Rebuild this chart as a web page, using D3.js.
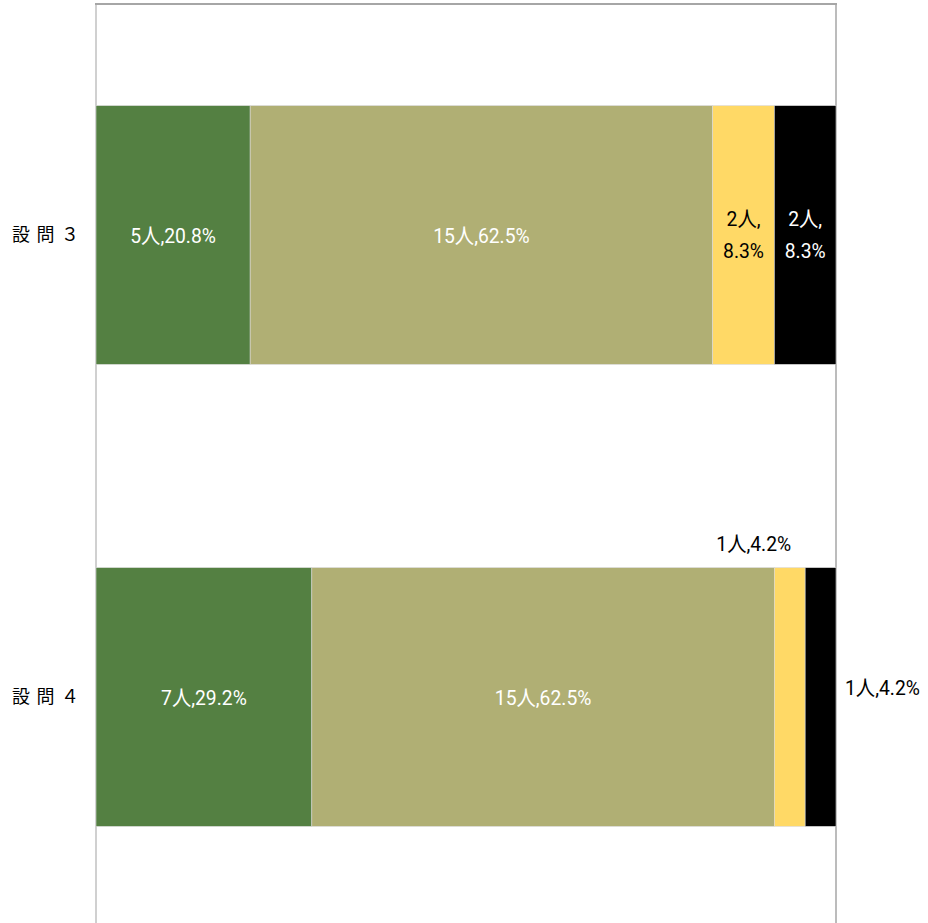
<!DOCTYPE html>
<html>
<head>
<meta charset="utf-8">
<script src="https://cdn.jsdelivr.net/npm/d3@7"></script>
<style>
  body { margin: 0; background: #fff; }
  svg { display: block; }
  text { font-family: "Roboto", "Noto Sans CJK JP", sans-serif; }
</style>
</head>
<body>
<svg id="chart" width="928" height="923"></svg>
<script>
const categories = ["設問３", "設問４"]
const counts = [
    [5, 15, 2, 2],
    [7, 15, 1, 1]
]
const percents = [
    ["20.8%", "62.5%", "8.3%", "8.3%"],
    ["29.2%", "62.5%", "4.2%", "4.2%"]
]
const colours = ["#548042", "#b0af74", "#ffd966", "#000000"]
const textColours = ["#fff", "#fff", "#000", "#fff"]

const svg = d3.select("#chart")
const margin = { top: 4, left: 96, right: 92, bottom: -5 }
const width = 928, height = 923
const x0 = margin.left, x1 = width - margin.right
const y0 = margin.top, y1 = height - margin.bottom
const squeeze = 0.92   // labels look slightly condensed

const x = d3.scaleLinear().domain([0, 1]).range([x0, x1])
const y = d3.scaleBand().domain(categories).range([y0, y1]).paddingInner(0.44).paddingOuter(0.22)

// stacked shares
const rows = categories.map((c, i) => {
    const total = d3.sum(counts[i])
    let acc = 0
    return counts[i].map((v, j) => {
        const d = { cat: c, row: i, j, v, start: acc / total, end: (acc + v) / total }
        acc += v
        return d
    })
})

// plot frame
svg.append("line").attr("x1", x0).attr("x2", x0).attr("y1", y0).attr("y2", height)
    .attr("stroke", "#d0d0d0").attr("stroke-width", 2)
svg.append("line").attr("x1", x1).attr("x2", x1).attr("y1", y0).attr("y2", height)
    .attr("stroke", "#a6a6a6").attr("stroke-width", 1.5)
svg.append("line").attr("x1", x0 - 1).attr("x2", x1 + 1).attr("y1", y0).attr("y2", y0)
    .attr("stroke", "#a6a6a6").attr("stroke-width", 2)

const g = svg.append("g")
g.selectAll("rect")
    .data(rows.flat())
    .join("rect")
    .attr("x", d => x(d.start))
    .attr("width", d => x(d.end) - x(d.start))
    .attr("y", d => y(d.cat))
    .attr("height", y.bandwidth())
    .attr("fill", d => colours[d.j])
    .attr("stroke", "#d9d9d9")
    .attr("stroke-width", 0.6)

// category labels
svg.append("g").selectAll("text")
    .data(categories)
    .join("text")
    .attr("x", 12)
    .attr("y", d => y(d) + y.bandwidth() / 2)
    .attr("dy", "0.36em")
    .attr("font-size", 18)
    .attr("letter-spacing", 6.5)
    .attr("font-family", "'Noto Sans CJK JP', sans-serif")
    .attr("fill", "#000")
    .text(d => d)

// data labels
const labels = svg.append("g").attr("font-size", 21)
function place(px, py, anchor, fill) {
    return labels.append("text")
        .attr("transform", `translate(${px},${py}) scale(${squeeze},1)`)
        .attr("text-anchor", anchor)
        .attr("fill", fill)
}
rows.flat().forEach(d => {
    const cx = (x(d.start) + x(d.end)) / 2
    const cy = y(d.cat) + y.bandwidth() / 2
    const txt = counts[d.row][d.j] + "人," + percents[d.row][d.j]
    const w = x(d.end) - x(d.start)
    if (w > 120) {
        place(cx, cy, "middle", textColours[d.j]).attr("dy", "0.36em").text(txt)
    } else if (w > 45) {
        const t = place(cx, cy, "middle", textColours[d.j])
        t.append("tspan").attr("x", 0).attr("dy", "-0.42em").text(counts[d.row][d.j] + "人,")
        t.append("tspan").attr("x", 0).attr("dy", "1.52em").text(percents[d.row][d.j])
    } else if (d.j === 2) {
        // small segment: label above the bar
        place(cx - 36, y(d.cat) - 24, "middle", "#000").attr("dy", "0.36em").text(txt)
    } else {
        // last small segment: label right of the plot
        place(x1 + 9, cy - 10, "start", "#000").attr("dy", "0.36em").text(txt)
    }
})
</script>
</body>
</html>
